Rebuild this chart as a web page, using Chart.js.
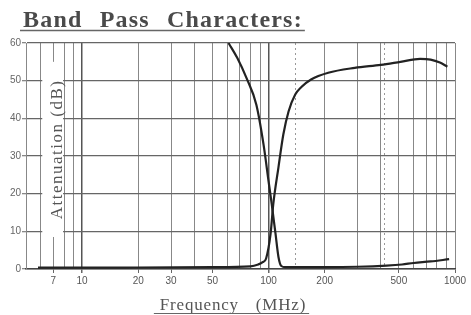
<!DOCTYPE html>
<html><head><meta charset="utf-8">
<script src="https://cdn.jsdelivr.net/npm/chart.js@4.4.1/dist/chart.umd.min.js"></script>
<style>html,body{margin:0;padding:0;background:#fff;}</style>
</head><body>
<canvas id="c" width="471" height="315"></canvas>
<script>
const titleText = 'Band Pass Characters:';
const xTitleText = 'Frequency (MHz)';
const yTitleText = 'Attenuation (dB)';
const xTickLabels = [7, 10, 20, 30, 50, 100, 200, 500, 1000];
const yTickLabels = [0, 10, 20, 30, 40, 50, 60];
const gridFreqs = [5,6,7,8,9,10,20,30,40,50,60,70,80,90,100,140,200,300,400,420,500,600,700,800,900,1000];
const dashedFreqs = [140, 420];
const majorFreqs = [10, 100];

// Curve falling from 60 dB near 61 MHz (low side)
const freqA  = [61, 68, 76, 86, 94, 100, 104, 109, 113, 117, 123, 140, 200, 300, 430, 520, 600, 740, 930];
const attenA = [60, 56, 50.8, 43.6, 33, 23.3, 17.2, 9.3, 3.2, 0.8, 0.5, 0.5, 0.5, 0.6, 0.9, 1.2, 1.6, 2.0, 2.6];

// Curve rising near 100 MHz (high side)
const freqB  = [5.8, 10, 20, 50, 80, 88, 93, 97, 102.5, 106, 113, 120, 128, 139, 150, 169, 209, 290, 400, 510, 650, 740, 830, 910];
const attenB = [0.35, 0.35, 0.4, 0.5, 0.7, 1.2, 1.8, 2.8, 9.3, 17.2, 27, 35.7, 41.8, 46.3, 48.3, 50.3, 52.1, 53.4, 54.2, 55, 55.8, 55.6, 54.8, 53.7];

const toPts = (xs, ys) => xs.map((x, i) => ({x: x, y: ys[i]}));

const textPlugin = {
  id: 'texts',
  beforeDatasetsDraw(chart) {
    const ctx = chart.ctx, xs = chart.scales.x, ys = chart.scales.y;
    ctx.save();
    ctx.fillStyle = '#fff';
    const x0 = xs.getPixelForValue(6) + 1.5, x1 = xs.getPixelForValue(8) - 1;
    const y0 = ys.getPixelForValue(55), y1 = ys.getPixelForValue(8.5);
    ctx.fillRect(x0, y0, x1 - x0, y1 - y0);
    ctx.translate(x1 - 1, (y0 + y1) / 2);
    ctx.rotate(-Math.PI / 2);
    ctx.fillStyle = '#555';
    ctx.font = '17px "Liberation Serif"';
    ctx.letterSpacing = '1.5px';
    ctx.textAlign = 'center';
    ctx.textBaseline = 'alphabetic';
    ctx.fillText(yTitleText, 0, 0);
    ctx.restore();
  },
  afterDraw(chart) {
    const ctx = chart.ctx;
    ctx.save();
    ctx.fillStyle = '#4a4a4a';
    ctx.strokeStyle = '#666';
    ctx.font = 'bold 24px "Liberation Serif"';
    ctx.letterSpacing = '1.2px';
    ctx.wordSpacing = '10px';
    ctx.textAlign = 'left';
    ctx.textBaseline = 'alphabetic';
    ctx.fillText(titleText, 23, 27);
    let w = ctx.measureText(titleText).width;
    ctx.lineWidth = 1.5;
    ctx.beginPath(); ctx.moveTo(20, 30.5); ctx.lineTo(23 + w + 2, 30.5); ctx.stroke();

    ctx.fillStyle = '#555';
    ctx.font = '17px "Liberation Serif"';
    ctx.letterSpacing = '0.8px';
    ctx.wordSpacing = '12px';
    ctx.textAlign = 'center';
    ctx.fillText(xTitleText, 233, 310);
    w = ctx.measureText(xTitleText).width;
    ctx.lineWidth = 1;
    ctx.beginPath(); ctx.moveTo(233 - w / 2 - 6, 313.5); ctx.lineTo(233 + w / 2 + 3, 313.5); ctx.stroke();
    ctx.restore();
  }
};

new Chart(document.getElementById('c'), {
  type: 'line',
  data: {
    datasets: [
      { data: toPts(freqA, attenA), borderColor: '#222', borderWidth: 2.2, pointRadius: 0, fill: false, cubicInterpolationMode: 'monotone' },
      { data: toPts(freqB, attenB), borderColor: '#222', borderWidth: 2.2, pointRadius: 0, fill: false, cubicInterpolationMode: 'monotone' }
    ]
  },
  options: {
    responsive: false,
    animation: false,
    devicePixelRatio: 1,
    layout: { padding: { top: 43, right: 16, left: 0, bottom: 0 } },
    plugins: { legend: { display: false }, tooltip: { enabled: false }, title: { display: false } },
    scales: {
      x: {
        type: 'logarithmic',
        min: 5, max: 1000,
        afterBuildTicks: (s) => { s.ticks = gridFreqs.map(v => ({ value: v })); },
        afterFit: (s) => { s.height = 46; },
        ticks: {
          autoSkip: false, maxRotation: 0, minRotation: 0, padding: 2,
          color: '#555', font: { family: '"Liberation Sans"', size: 10 },
          callback: (v) => xTickLabels.includes(v) ? String(v) : ''
        },
        grid: {
          drawTicks: true, tickLength: 4,
          color: (c) => c.tick && majorFreqs.includes(c.tick.value) ? '#555' : (c.tick && dashedFreqs.includes(c.tick.value) ? '#999' : '#888'),
          lineWidth: (c) => c.tick && majorFreqs.includes(c.tick.value) ? 1.5 : 1,
          tickColor: (c) => c.tick && xTickLabels.includes(c.tick.value) ? '#666' : 'rgba(0,0,0,0)'
        },
        border: {
          display: true, color: '#444', width: 1.5,
          dash: (c) => c.tick && dashedFreqs.includes(c.tick.value) ? [2, 3] : []
        }
      },
      y: {
        type: 'linear',
        min: 0, max: 60,
        afterBuildTicks: (s) => { s.ticks = yTickLabels.map(v => ({ value: v })); },
        afterFit: (s) => { s.width = 26; },
        ticks: { padding: 1, color: '#666', font: { family: '"Liberation Sans"', size: 10 } },
        grid: { drawTicks: true, tickLength: 4, color: '#666', lineWidth: 1.3, tickColor: '#888' },
        border: { display: true, color: '#888', width: 1 }
      }
    }
  },
  plugins: [textPlugin]
});
</script>
</body></html>
